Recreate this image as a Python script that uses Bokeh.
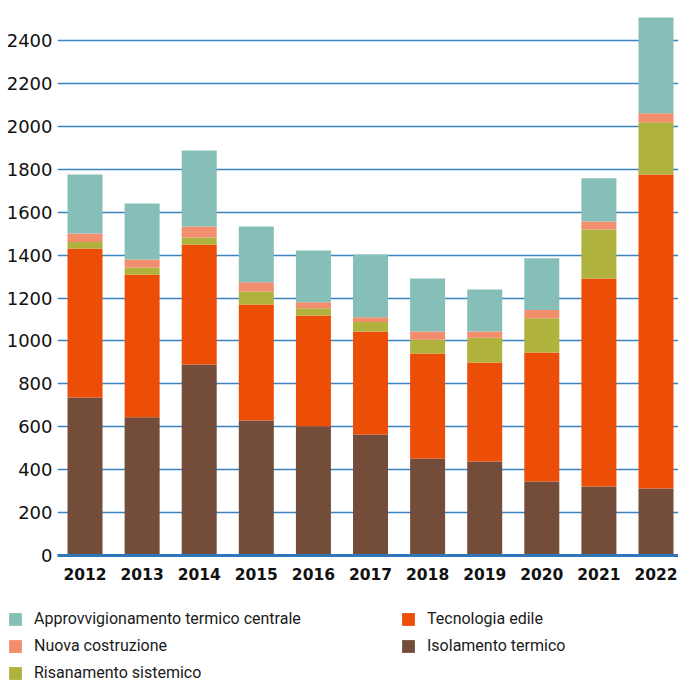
from bokeh.plotting import figure
from bokeh.models import ColumnDataSource, Legend, LegendItem, FixedTicker, Range1d
from bokeh.embed import file_html
from bokeh.resources import INLINE

years = [2012, 2013, 2014, 2015, 2016, 2017, 2018, 2019, 2020, 2021, 2022]
isolamento = [737, 645, 890, 629, 601, 564, 452, 438, 345, 322, 312]
tecnologia = [694, 665, 560, 541, 518, 480, 490, 462, 601, 969, 1464]
risanamento = [30, 33, 32, 61, 34, 44, 64, 115, 160, 229, 243]
nuova = [40, 37, 52, 43, 28, 22, 38, 29, 38, 37, 42]
approvv = [275, 261, 354, 260, 241, 293, 247, 196, 241, 201, 447]
y_ticks = [0, 200, 400, 600, 800, 1000, 1200, 1400, 1600, 1800, 2000, 2200, 2400]

series = ["isol", "tecno", "risan", "nuova", "approvv"]
names = {
    "isol": "Isolamento termico",
    "tecno": "Tecnologia edile",
    "risan": "Risanamento sistemico",
    "nuova": "Nuova costruzione",
    "approvv": "Approvvigionamento termico centrale",
}
colors = {
    "isol": "#744c3a",
    "tecno": "#ec4e07",
    "risan": "#afb23d",
    "nuova": "#f28d6e",
    "approvv": "#85bfb8",
}

src = ColumnDataSource(dict(x=years, isol=isolamento, tecno=tecnologia,
                            risan=risanamento, nuova=nuova, approvv=approvv))

W = 678
p = figure(width=W, height=595, output_backend="svg", toolbar_location=None,
           x_range=Range1d(2011.518, 2022.394), y_range=Range1d(0, 2587),
           min_border_left=57, min_border_right=0, min_border_top=0,
           min_border_bottom=40)
p.outline_line_color = None
p.background_fill_color = "white"

rs = p.vbar_stack(series, x="x", width=0.613, source=src,
                  color=[colors[s] for s in series], line_color=None)

p.yaxis.ticker = FixedTicker(ticks=y_ticks)
p.yaxis.axis_line_color = None
p.yaxis.major_tick_line_color = None
p.yaxis.major_tick_out = 0
p.yaxis.minor_tick_line_color = None
p.yaxis.major_label_text_font = "DejaVu Sans"
p.yaxis.major_label_text_font_size = "18px"
p.yaxis.major_label_text_color = "#111111"
p.yaxis.major_label_standoff = 5

p.xaxis.ticker = FixedTicker(ticks=years)
p.xaxis.axis_line_color = "#2e77bb"
p.xaxis.axis_line_width = 3
p.xaxis.major_tick_line_color = None
p.xaxis.major_tick_out = 0
p.xaxis.minor_tick_line_color = None
p.xaxis.major_label_text_font = "DejaVu Sans"
p.xaxis.major_label_text_font_style = "bold"
p.xaxis.major_label_text_font_size = "15.5px"
p.xaxis.major_label_text_color = "#111111"
p.xaxis.major_label_standoff = 12

p.xgrid.grid_line_color = None
p.ygrid.ticker = FixedTicker(ticks=y_ticks)
p.ygrid.grid_line_color = "#3a82c4"
p.ygrid.grid_line_width = 1.5
p.ygrid.level = "underlay"

# legend panel: a separate root figure whose frame is the whole area
leg = figure(width=W, height=87, output_backend="svg", toolbar_location=None,
             x_range=Range1d(0, 1), y_range=Range1d(-2, -1),
             x_axis_location=None, y_axis_location=None,
             min_border=0, min_border_left=0, min_border_right=0,
             min_border_top=0, min_border_bottom=0)
leg.grid.visible = False
leg.outline_line_color = None
lrs = leg.vbar_stack(series, x="x", width=0.613, source=src,
                     color=[colors[s] for s in series], line_color=None)

order = ["approvv", "nuova", "risan", "tecno", "isol"]
items = [LegendItem(label=names[s], renderers=[lrs[series.index(s)]]) for s in order]
legend = Legend(items=items, location=(7, 0), orientation="vertical", nrows=3,
                glyph_width=16, glyph_height=16, label_height=16,
                label_standoff=11, spacing=8, label_width=358,
                padding=0, margin=0,
                label_text_font="Roboto", label_text_font_size="16px",
                label_text_color="#1a1a1a",
                background_fill_alpha=0, border_line_alpha=0)
leg.add_layout(legend, "center")

open("out.html", "w").write(file_html([p, leg], INLINE))
